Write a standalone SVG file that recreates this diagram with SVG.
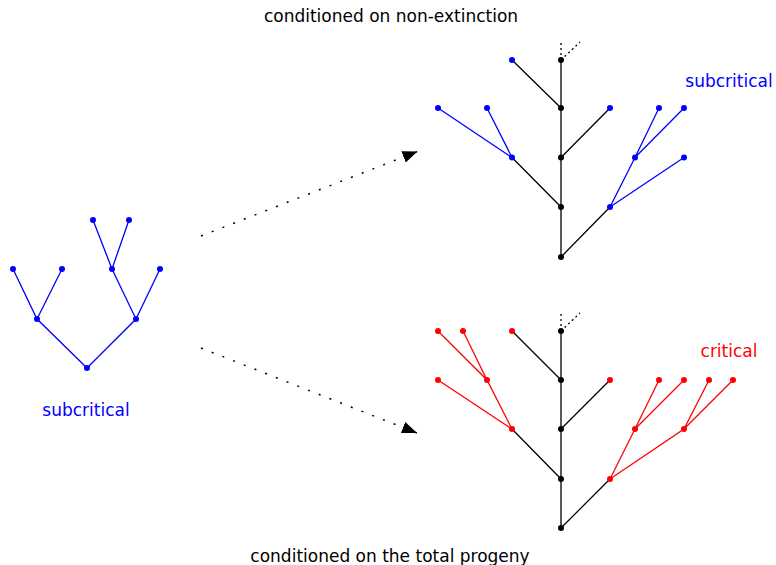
<svg xmlns="http://www.w3.org/2000/svg" width="776" height="565" viewBox="0 0 776 565">
<style>
text{font-family:"DejaVu Sans","Liberation Sans",sans-serif;font-size:17px;text-anchor:middle}
.k{stroke:#000;stroke-width:1.3;fill:none}
.b{stroke:#0000ff;stroke-width:1.3;fill:none}
.r{stroke:#ff0000;stroke-width:1.3;fill:none}
.d{stroke:#000;stroke-width:1.3;fill:none;stroke-dasharray:2 3}
.a{stroke:#000;stroke-width:1.5;fill:none;stroke-dasharray:2 9.5}
.nk{fill:#000}.nb{fill:#0000ff}.nr{fill:#ff0000}
</style>
<defs>
<marker id="ah" markerUnits="userSpaceOnUse" markerWidth="16" markerHeight="12" refX="15" refY="6" orient="auto" viewBox="0 0 16 12">
<path d="M0,0 L15,6 L0,12 z" fill="#000"/>
</marker>
</defs>
<text x="391" y="22" fill="#000">conditioned on non-extinction</text>
<text x="390" y="562" fill="#000">conditioned on the total progeny</text>
<text x="729" y="87" fill="#0000ff">subcritical</text>
<text x="729" y="357" fill="#ff0000">critical</text>
<text x="86" y="416" fill="#0000ff">subcritical</text>
<g id="connectors">
<line class="a" x1="201" y1="236" x2="417.5" y2="151.5" marker-end="url(#ah)"/>
<line class="a" x1="201" y1="348" x2="417" y2="433" marker-end="url(#ah)"/>
<path class="b" d="M87,368 L37,319 L13,269 M37,319 L62,269 M87,368 L136,319 L112,269 L93,220 M112,269 L129,220 M136,319 L160,269"/>
<path class="d" d="M561,60 L561,42 M561,60 L580,42"/>
<path class="k" d="M561,60 L561,257 M561,108 L512,60 M561,157.5 L610,108 M561,207 L512,157.5 M561,257 L610,207"/>
<path class="b" d="M512,157.5 L438,108 M512,157.5 L487,108 M610,207 L635,157.5 L659,108 M635,157.5 L684,108 M610,207 L684,157.5"/>
<path class="d" d="M561,331 L561,313 M561,331 L580,313"/>
<path class="k" d="M561,331 L561,528 M561,380 L512,331 M561,429 L610,380 M561,479 L512,429 M561,528 L610,479"/>
<path class="r" d="M512,429 L438,380 M512,429 L487,380 L438,331 M487,380 L463,331 M610,479 L635,429 L659,380 M635,429 L684,380 M610,479 L684,429 L709,380 M684,429 L733,380"/>
</g>
<g id="L0"><circle class="nb" cx="87" cy="368" r="3"/></g>
<g id="L1"><circle class="nb" cx="37" cy="319" r="3"/></g>
<g id="L2"><circle class="nb" cx="136" cy="319" r="3"/></g>
<g id="L3"><circle class="nb" cx="13" cy="269" r="3"/></g>
<g id="L4"><circle class="nb" cx="62" cy="269" r="3"/></g>
<g id="L5"><circle class="nb" cx="112" cy="269" r="3"/></g>
<g id="L6"><circle class="nb" cx="160" cy="269" r="3"/></g>
<g id="L7"><circle class="nb" cx="93" cy="220" r="3"/></g>
<g id="L8"><circle class="nb" cx="129" cy="220" r="3"/></g>
<g id="T0"><circle class="nk" cx="561" cy="257" r="3"/></g>
<g id="T1"><circle class="nk" cx="561" cy="207" r="3"/></g>
<g id="T2"><circle class="nk" cx="561" cy="157.5" r="3"/></g>
<g id="T3"><circle class="nk" cx="561" cy="108" r="3"/></g>
<g id="T4"><circle class="nk" cx="561" cy="60" r="3"/></g>
<g id="T5"><circle class="nb" cx="512" cy="60" r="3"/></g>
<g id="T6"><circle class="nb" cx="610" cy="108" r="3"/></g>
<g id="T7"><circle class="nb" cx="512" cy="157.5" r="3"/></g>
<g id="T8"><circle class="nb" cx="438" cy="108" r="3"/></g>
<g id="T9"><circle class="nb" cx="487" cy="108" r="3"/></g>
<g id="T10"><circle class="nb" cx="610" cy="207" r="3"/></g>
<g id="T11"><circle class="nb" cx="635" cy="157.5" r="3"/></g>
<g id="T12"><circle class="nb" cx="684" cy="157.5" r="3"/></g>
<g id="T13"><circle class="nb" cx="659" cy="108" r="3"/></g>
<g id="T14"><circle class="nb" cx="684" cy="108" r="3"/></g>
<g id="B0"><circle class="nk" cx="561" cy="528" r="3"/></g>
<g id="B1"><circle class="nk" cx="561" cy="479" r="3"/></g>
<g id="B2"><circle class="nk" cx="561" cy="429" r="3"/></g>
<g id="B3"><circle class="nk" cx="561" cy="380" r="3"/></g>
<g id="B4"><circle class="nk" cx="561" cy="331" r="3"/></g>
<g id="B5"><circle class="nr" cx="512" cy="331" r="3"/></g>
<g id="B6"><circle class="nr" cx="610" cy="380" r="3"/></g>
<g id="B7"><circle class="nr" cx="512" cy="429" r="3"/></g>
<g id="B8"><circle class="nr" cx="438" cy="380" r="3"/></g>
<g id="B9"><circle class="nr" cx="487" cy="380" r="3"/></g>
<g id="B10"><circle class="nr" cx="438" cy="331" r="3"/></g>
<g id="B11"><circle class="nr" cx="463" cy="331" r="3"/></g>
<g id="B12"><circle class="nr" cx="610" cy="479" r="3"/></g>
<g id="B13"><circle class="nr" cx="635" cy="429" r="3"/></g>
<g id="B14"><circle class="nr" cx="684" cy="429" r="3"/></g>
<g id="B15"><circle class="nr" cx="659" cy="380" r="3"/></g>
<g id="B16"><circle class="nr" cx="684" cy="380" r="3"/></g>
<g id="B17"><circle class="nr" cx="709" cy="380" r="3"/></g>
<g id="B18"><circle class="nr" cx="733" cy="380" r="3"/></g>
</svg>
